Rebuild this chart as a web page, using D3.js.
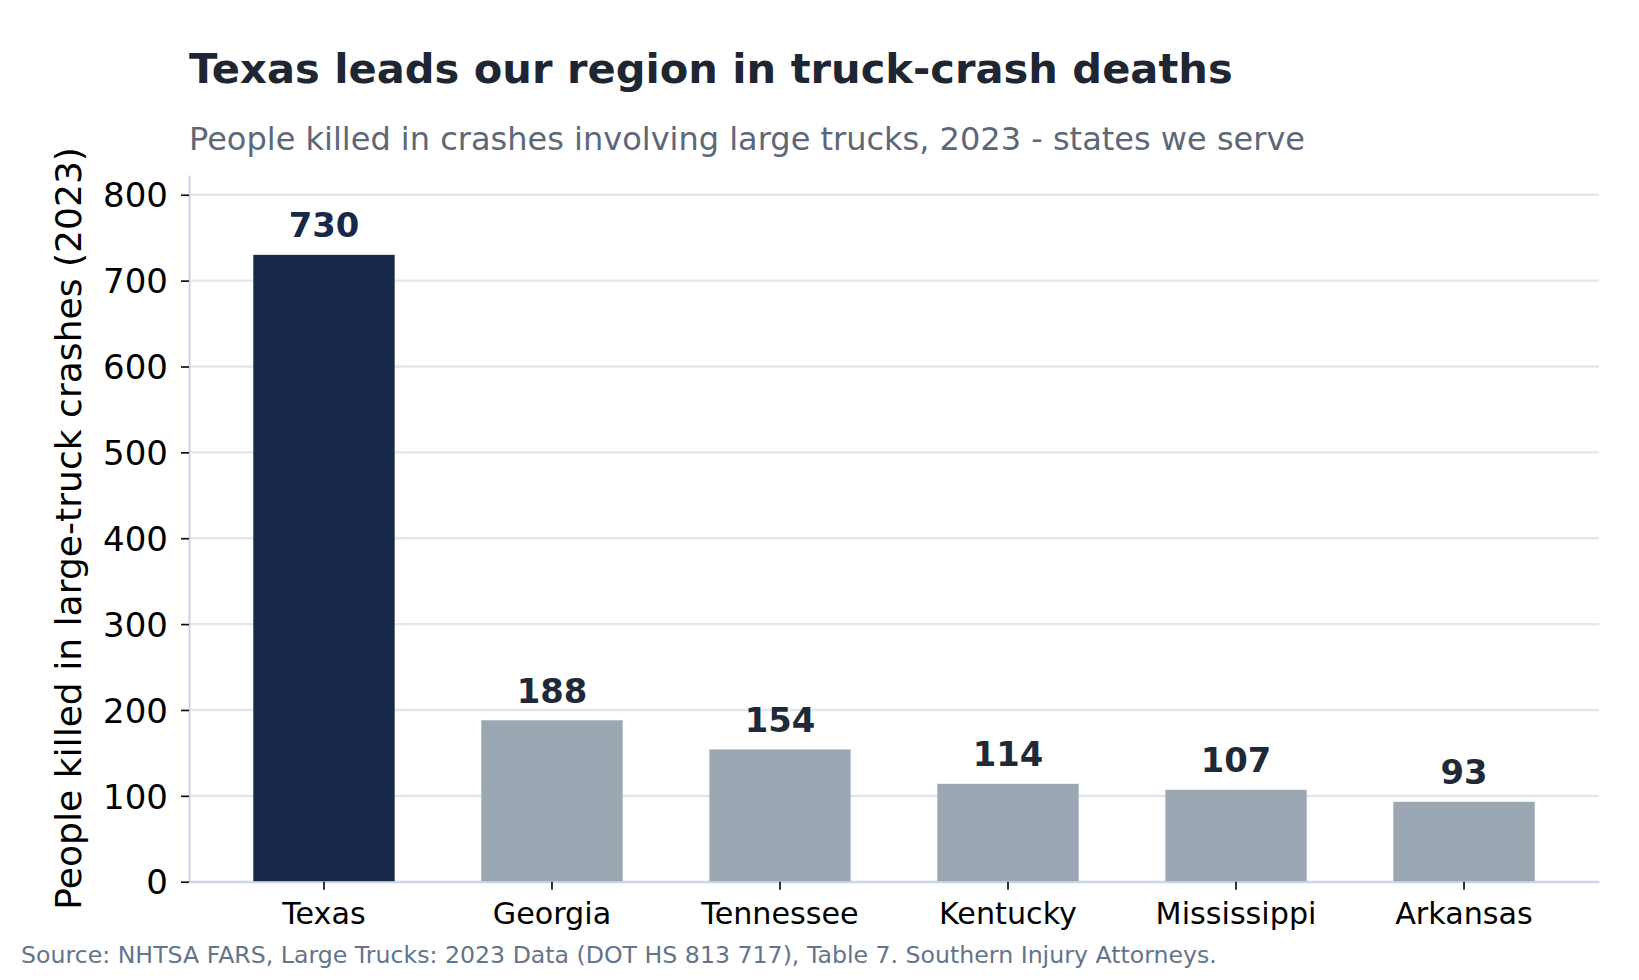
<!DOCTYPE html>
<html>
<head>
<meta charset="utf-8">
<script src="https://cdn.jsdelivr.net/npm/d3@7"></script>
<style>
  body { margin: 0; background: #fff; }
  text { font-family: "DejaVu Sans", sans-serif; }
</style>
</head>
<body>
<div id="chart"></div>
<script>
var states = ["Texas", "Georgia", "Tennessee", "Kentucky", "Mississippi", "Arkansas"];
var deaths = [730, 188, 154, 114, 107, 93];
var yTicks = [0, 100, 200, 300, 400, 500, 600, 700, 800];
var highlight = "Texas";

var w = 1639, h = 980;
var padLeft = 189, padRight = 1599, padTop = 175, padBottom = 881.7;

var svg = d3.select("#chart")
    .append("svg")
    .attr("width", w)
    .attr("height", h);

var xscale = d3.scaleBand()
    .domain(states)
    .range([padLeft, padRight])
    .paddingInner(0.38)
    .paddingOuter(0.282);

var yscale = d3.scaleLinear()
    .domain([0, 823])
    .range([padBottom, padTop]);

// grid
svg.append("g")
    .selectAll("line")
    .data(yTicks)
    .enter().append("line")
    .attr("x1", padLeft)
    .attr("x2", padRight)
    .attr("y1", function (d) { return yscale(d); })
    .attr("y2", function (d) { return yscale(d); })
    .attr("stroke", "#e2e6ee")
    .attr("stroke-width", 2.4);

// bars
svg.append("g")
    .selectAll("rect")
    .data(states)
    .enter().append("rect")
    .attr("x", function (d) { return xscale(d); })
    .attr("width", xscale.bandwidth())
    .attr("y", function (d, i) { return yscale(deaths[i]); })
    .attr("height", function (d, i) { return padBottom - yscale(deaths[i]); })
    .attr("fill", function (d) { return d == highlight ? "#18284a" : "#9ca7b4"; });

// value labels
svg.append("g")
    .selectAll("text")
    .data(states)
    .enter().append("text")
    .attr("x", function (d) { return xscale(d) + xscale.bandwidth() / 2; })
    .attr("y", function (d, i) { return yscale(deaths[i]) - 17.5; })
    .attr("text-anchor", "middle")
    .attr("font-weight", "bold")
    .attr("font-size", "33.8px")
    .attr("fill", function (d) { return d == highlight ? "#18284a" : "#1f2937"; })
    .text(function (d, i) { return deaths[i]; });

// y axis
var yaxis = d3.axisLeft(yscale)
    .tickValues(yTicks)
    .tickSize(8)
    .tickSizeOuter(0)
    .tickPadding(13);

var gy = svg.append("g")
    .attr("transform", "translate(" + padLeft + ",0)")
    .call(yaxis);
gy.select(".domain").attr("stroke", "#cbd5e1").attr("stroke-width", 2);
gy.selectAll(".tick line").attr("stroke", "#111").attr("stroke-width", 1.7);
gy.selectAll(".tick text")
    .attr("font-size", "34px")
    .attr("font-family", "DejaVu Sans")
    .attr("fill", "#000")
    .attr("dy", "0.36em");

// x axis
var xaxis = d3.axisBottom(xscale)
    .tickSize(8)
    .tickSizeOuter(0)
    .tickPadding(8);

var gx = svg.append("g")
    .attr("transform", "translate(0," + padBottom + ")")
    .call(xaxis);
gx.select(".domain").attr("stroke", "#cbd5e1").attr("stroke-width", 2);
gx.selectAll(".tick line").attr("stroke", "#111").attr("stroke-width", 1.7);
gx.selectAll(".tick text")
    .attr("font-size", "30.2px")
    .attr("font-family", "DejaVu Sans")
    .attr("fill", "#000")
    .attr("y", 0)
    .attr("dy", 0)
    .attr("transform", "translate(0,42.3)");

// y label
svg.append("text")
    .attr("transform", "translate(81," + ((padTop + padBottom) / 2) + ") rotate(-90)")
    .attr("text-anchor", "middle")
    .attr("font-size", "36.1px")
    .attr("fill", "#000")
    .text("People killed in large-truck crashes (2023)");

// titles
svg.append("text")
    .attr("x", padLeft)
    .attr("y", 82.7)
    .attr("font-size", "41.6px")
    .attr("font-weight", "bold")
    .attr("fill", "#1f2633")
    .text("Texas leads our region in truck-crash deaths");

svg.append("text")
    .attr("x", padLeft)
    .attr("y", 150)
    .attr("font-size", "32px")
    .attr("fill", "#5d6778")
    .text("People killed in crashes involving large trucks, 2023 - states we serve");

svg.append("text")
    .attr("x", 21)
    .attr("y", 962.7)
    .attr("font-size", "23.65px")
    .attr("fill", "#64748b")
    .text("Source: NHTSA FARS, Large Trucks: 2023 Data (DOT HS 813 717), Table 7. Southern Injury Attorneys.");
</script>
</body>
</html>
